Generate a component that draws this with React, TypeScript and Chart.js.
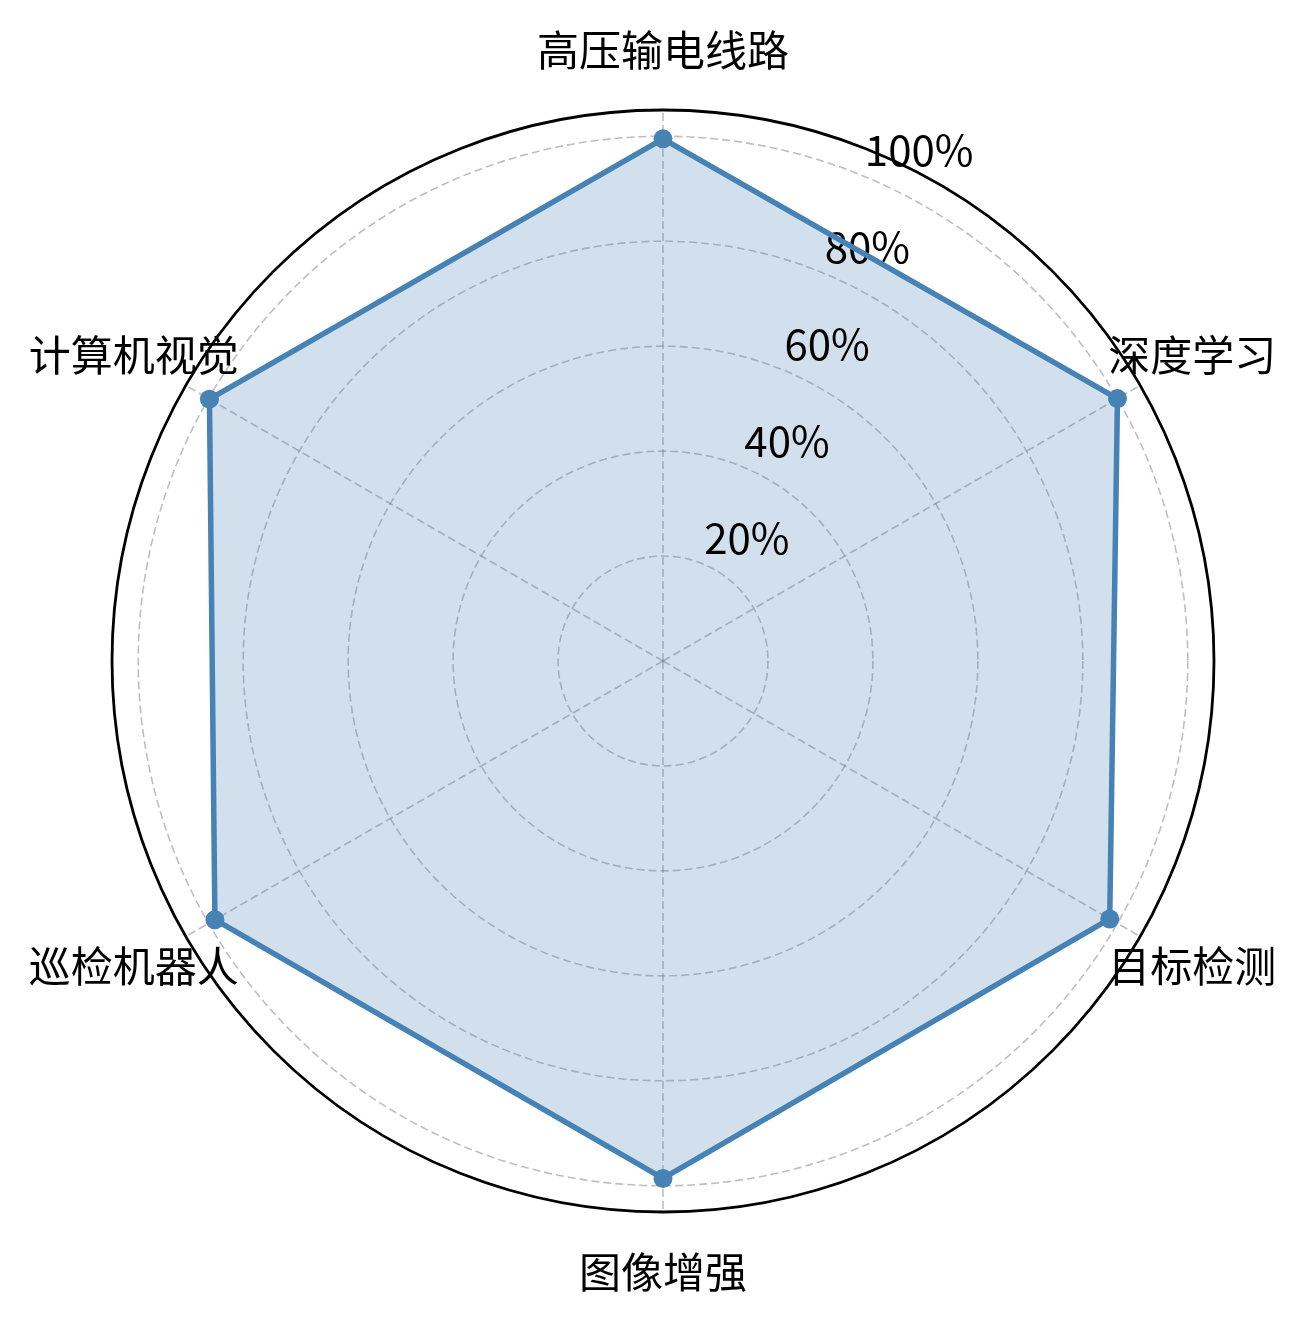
import { useEffect, useRef } from 'react';
import Chart from 'chart.js/auto';

const AXES = ['高压输电线路', '深度学习', '目标检测', '图像增强', '巡检机器人', '计算机视觉'];
const SCORES = [0.995, 1.0, 0.983, 0.986, 0.986, 0.998];
const RING_TICKS = [0.2, 0.4, 0.6, 0.8, 1.0];
const RING_LABELS = ['20%', '40%', '60%', '80%', '100%'];
const R_MAX = 1.05;

const FONT = '"Noto Sans CJK SC", "Noto Sans CJK JP", "DejaVu Sans", sans-serif';
const STEEL = 'rgb(70,130,180)';
const GRID = 'rgba(128,128,128,0.5)';

const isOuter = (c: any) => c.tick && c.tick.value >= R_MAX - 1e-9;

// matplotlib-style text: radial labels at 22.5deg, category labels centred outside the ring
const radarText = {
  id: 'radarText',
  afterDatasetDraw(chart: any, args: any) {
    if (args.index !== 0) return;
    const s = chart.scales.r;
    const ctx = chart.ctx;
    const a = (22.5 * Math.PI) / 180;
    ctx.save();
    ctx.fillStyle = '#000';
    ctx.font = `42px ${FONT}`;
    ctx.textAlign = 'left';
    ctx.textBaseline = 'alphabetic';
    RING_TICKS.forEach((v, i) => {
      const d = s.getDistanceFromCenterForValue(v);
      const x = s.xCenter + d * Math.sin(a);
      const y = s.yCenter - d * Math.cos(a);
      ctx.fillText(RING_LABELS[i], x + 1, y - 10);
    });
    ctx.restore();
  },
  afterDraw(chart: any) {
    const s = chart.scales.r;
    const ctx = chart.ctx;
    const d = s.getDistanceFromCenterForValue(R_MAX) + 60;
    ctx.save();
    ctx.fillStyle = '#000';
    ctx.font = `42px ${FONT}`;
    ctx.textAlign = 'center';
    ctx.textBaseline = 'middle';
    AXES.forEach((lab, i) => {
      const ang = (i * 2 * Math.PI) / AXES.length;
      ctx.fillText(lab, s.xCenter + d * Math.sin(ang), s.yCenter - d * Math.cos(ang));
    });
    ctx.restore();
  },
};

export default function App() {
  const canvasRef = useRef<HTMLCanvasElement>(null);

  useEffect(() => {
    if (!canvasRef.current) return;
    Chart.defaults.font.family = FONT;
    const chart = new Chart(canvasRef.current, {
      type: 'radar',
      data: {
        labels: AXES,
        datasets: [
          {
            data: SCORES,
            fill: true,
            backgroundColor: 'rgba(70,130,180,0.25)',
            borderColor: 'transparent',
            borderWidth: 1,
            pointRadius: 0,
            order: 2,
          },
          {
            data: SCORES,
            fill: false,
            borderColor: STEEL,
            borderWidth: 5.5,
            borderJoinStyle: 'round',
            pointRadius: 9.5,
            pointBackgroundColor: STEEL,
            pointBorderWidth: 0,
            pointHoverRadius: 9.5,
            order: 1,
          },
        ],
      },
      options: {
        animation: false,
        responsive: true,
        maintainAspectRatio: false,
        layout: { padding: { left: 112, right: 90, top: 110, bottom: 112 } },
        plugins: {
          legend: { display: false },
          tooltip: { enabled: false },
        },
        elements: { line: { tension: 0 } },
        scales: {
          r: {
            min: 0,
            max: R_MAX,
            afterBuildTicks: (scale: any) => {
              scale.ticks = [0, ...RING_TICKS, R_MAX].map((value) => ({ value }));
            },
            ticks: { display: false },
            pointLabels: { display: false },
            grid: {
              circular: true,
              color: (c: any) => (isOuter(c) ? '#000' : GRID),
              lineWidth: (c: any) => (isOuter(c) ? 2.8 : 1.6),
            },
            border: {
              dash: (c: any) => (isOuter(c) ? [] : [8, 4]),
            },
            angleLines: {
              color: GRID,
              lineWidth: 1.6,
              borderDash: [8, 4],
            },
          },
        },
      } as any,
      plugins: [radarText],
    });
    return () => chart.destroy();
  }, []);

  return (
    <div
      style={{
        position: 'absolute',
        left: 0,
        top: 0,
        width: 1304,
        height: 1324,
        background: '#fff',
      }}
    >
      <canvas ref={canvasRef} />
    </div>
  );
}
